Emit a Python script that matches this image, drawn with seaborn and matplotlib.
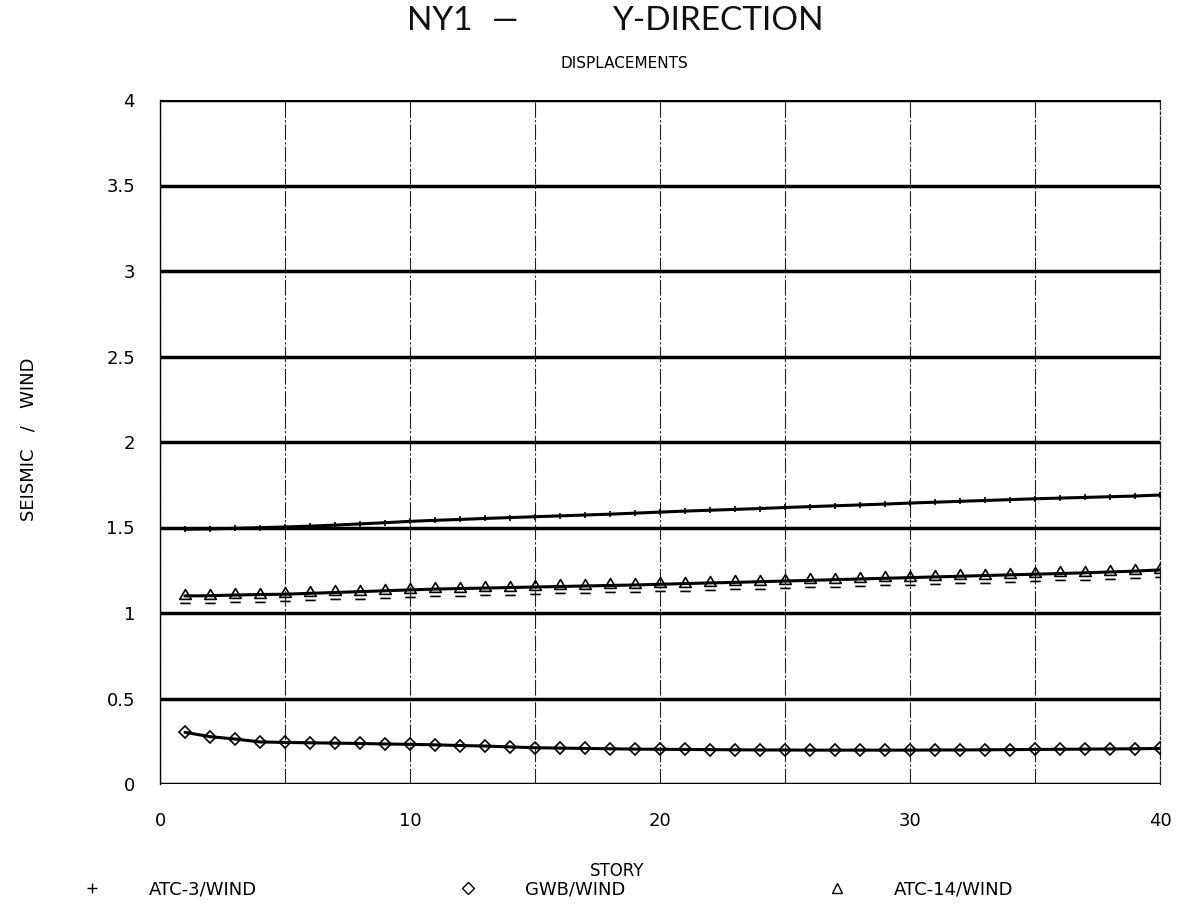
import numpy as np
import pandas as pd
import matplotlib
matplotlib.use('Agg')
import matplotlib.pyplot as plt
import seaborn as sns
from matplotlib.lines import Line2D
from matplotlib.path import Path

# data
stories = list(range(1, 41))
atc3_wind = [1.490, 1.492, 1.495, 1.499, 1.503, 1.508, 1.514, 1.521, 1.528, 1.536,
             1.542, 1.547, 1.553, 1.558, 1.563, 1.568, 1.573, 1.578, 1.584, 1.590,
             1.596, 1.601, 1.606, 1.611, 1.617, 1.622, 1.627, 1.632, 1.637, 1.643,
             1.648, 1.653, 1.658, 1.663, 1.668, 1.672, 1.676, 1.680, 1.684, 1.690]
gwb_wind = [0.302, 0.277, 0.263, 0.246, 0.243, 0.241, 0.239, 0.237, 0.234, 0.232,
            0.229, 0.225, 0.222, 0.217, 0.212, 0.210, 0.208, 0.206, 0.204, 0.203,
            0.202, 0.201, 0.200, 0.199, 0.199, 0.198, 0.198, 0.198, 0.198, 0.198,
            0.199, 0.199, 0.200, 0.201, 0.202, 0.203, 0.204, 0.205, 0.206, 0.208]
atc14_wind = [1.100, 1.101, 1.105, 1.108, 1.110, 1.115, 1.120, 1.125, 1.130, 1.135,
              1.140, 1.143, 1.146, 1.149, 1.152, 1.155, 1.158, 1.161, 1.164, 1.168,
              1.172, 1.176, 1.179, 1.183, 1.187, 1.191, 1.195, 1.199, 1.203, 1.207,
              1.211, 1.215, 1.219, 1.223, 1.227, 1.231, 1.235, 1.240, 1.245, 1.252]
series_names = ['ATC-3/WIND', 'GWB/WIND', 'ATC-14/WIND']
x_tick_labels = ['0', '', '10', '', '20', '', '30', '', '40']
y_tick_labels = ['0', '0.5', '1', '1.5', '2', '2.5', '3', '3.5', '4']

# triangle with a small bar under it, like the plotter marks
tri_bar = Path([(-0.5, -0.25), (0.5, -0.25), (0.0, 0.6), (-0.5, -0.25),
                (-0.45, -0.6), (0.45, -0.6)],
               [Path.MOVETO, Path.LINETO, Path.LINETO, Path.CLOSEPOLY,
                Path.MOVETO, Path.LINETO])
plot_markers = ['+', 'D', tri_bar]
plot_sizes = [5, 6, 10]
legend_markers = ['+', 'D', '^']

sns.set_style('white')
plt.rcParams['font.family'] = ['DejaVu Sans']
plt.rcParams['text.color'] = 'black'
plt.rcParams['xtick.color'] = 'black'
plt.rcParams['ytick.color'] = 'black'

fig = plt.figure(figsize=(11.77, 9.07), dpi=100)
ax = fig.add_axes([160/1177, 1-784/907, 1000/1177, 684/907])

all_vals = [atc3_wind, gwb_wind, atc14_wind]
for name, vals, mk, ms in zip(series_names, all_vals, plot_markers, plot_sizes):
    df = pd.DataFrame({'story': stories, 'ratio': vals})
    sns.lineplot(data=df, x='story', y='ratio', ax=ax, color='black', lw=2.2,
                 marker=mk, markersize=ms, markerfacecolor='none',
                 markeredgecolor='black', markeredgewidth=1.2, zorder=3)

ax.set_xlim(0, 40)
ax.set_ylim(0, 4)
ax.set_xticks(range(0, 41, 5))
ax.set_xticklabels(x_tick_labels, fontsize=13)
ax.set_yticks(np.arange(0, 4.01, 0.5))
ax.set_yticklabels(y_tick_labels, fontsize=13)
ax.tick_params(axis='y', direction='out', length=6, width=2.5, pad=12, color='black')
ax.tick_params(axis='x', direction='out', length=6, width=0.8, pad=14, color='black')

ax.yaxis.grid(True, color='black', lw=2.5)
ax.xaxis.grid(True, color='#222222', lw=0.8, ls=(0, (14, 2, 2, 2)))
ax.set_axisbelow(True)
for s in ['top', 'bottom']:
    ax.spines[s].set_visible(False)
ax.spines['left'].set_color('black')
ax.spines['left'].set_linewidth(1.0)
ax.spines['right'].set_color('#222222')
ax.spines['right'].set_linewidth(0.9)
ax.spines['right'].set_linestyle((0, (14, 2, 2, 2)))
ax.set_xlabel('')
ax.set_ylabel('')

# title pieces, spaced like the plotter title
tfont = dict(fontsize=24, family=['Lato', 'DejaVu Sans'], fontweight='normal',
             va='center', color='#111111')
fig.text(440/1177, 0.977, 'NY1', ha='center', **tfont)
fig.text(505/1177, 0.977, '—', ha='center', **tfont)
fig.text(612/1177, 0.977, 'Y-DIRECTION', ha='left', **tfont)
fig.text(624/1177, 1-64/907, 'DISPLACEMENTS', ha='center', va='center', fontsize=11)
fig.text(29/1177, 1-439/907, 'SEISMIC   /   WIND', rotation=90, ha='center', va='center', fontsize=13)
fig.text(617/1177, 1-871/907, 'STORY', ha='center', va='center', fontsize=12)

handles = [Line2D([], [], ls='none', marker=m, color='black', markerfacecolor='white',
                  markersize=7 if m != 'D' else 6, markeredgewidth=1.0)
           for m in legend_markers]
fig.legend(handles, series_names, loc='center left', bbox_to_anchor=(74/1177, 1-889/907), ncol=3,
           frameon=False, fontsize=13, columnspacing=10.7, handletextpad=2.15,
           borderpad=0, borderaxespad=0)

fig.savefig('out.png', dpi=100)
